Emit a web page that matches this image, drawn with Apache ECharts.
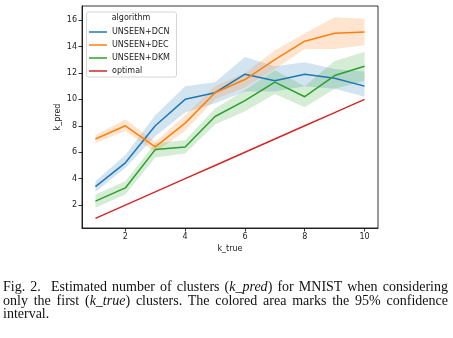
<!DOCTYPE html>
<html><head><meta charset="utf-8">
<script src="https://cdn.jsdelivr.net/npm/echarts@6/dist/echarts.min.js"></script>
<style>
html,body{margin:0;padding:0;background:#fff;}
#c{position:absolute;left:0;top:0;width:453px;height:338px;}
#cap{position:absolute;left:3px;top:280px;width:445px;font-family:"Liberation Serif","DejaVu Serif",serif;font-size:14px;line-height:13.5px;text-align:justify;color:#111;}
</style></head><body>
<div id="c"></div>
<div id="cap">Fig. 2.&nbsp; Estimated number of clusters (<i>k_pred</i>) for MNIST when considering only the first (<i>k_true</i>) clusters. The colored area marks the 95% confidence interval.</div>
<script>
const kTrue = [1,2,3,4,5,6,7,8,9,10];
const dcnMean = [3.4,5.2,8.0,10.0,10.5,11.9,11.4,11.9,11.6,11.0];
const dcnLo   = [3.0,4.8,7.2,9.0,9.7,10.6,10.6,11.0,10.8,10.2];
const dcnHi   = [3.8,5.8,8.8,11.0,11.3,13.2,12.5,12.8,12.3,12.1];
const decMean = [7.0,8.0,6.4,8.2,10.5,11.5,13.0,14.4,15.0,15.1];
const decLo   = [6.7,7.6,6.0,7.6,10.0,10.9,12.3,13.8,13.8,14.1];
const decHi   = [7.3,8.5,6.8,8.8,11.0,12.0,13.7,15.0,16.2,16.1];
const dkmMean = [2.3,3.3,6.2,6.4,8.7,9.9,11.3,10.2,11.8,12.5];
const dkmLo   = [1.8,2.8,5.6,5.9,8.1,9.1,10.4,9.4,10.8,11.4];
const dkmHi   = [2.8,3.8,6.7,6.9,9.3,10.7,12.2,11.0,12.9,13.6];
const optimal = [1,2,3,4,5,6,7,8,9,10];
const xTicks = [2,4,6,8,10];
const yTicks = [2,4,6,8,10,12,14,16];
const names = ['UNSEEN+DCN','UNSEEN+DEC','UNSEEN+DKM','optimal'];
const colors = ['#1f77b4','#ff7f0e','#2ca02c','#d62728'];

const pairs = a => kTrue.map((x,i)=>[x,a[i]]);
const series = [];
const bands = [[dcnLo,dcnHi],[decLo,decHi],[dkmLo,dkmHi]];
bands.forEach((b,k)=>{
  const data = kTrue.map((x,i)=>[x,b[0][i],b[1][i]]);
  series.push({type:'custom',name:'band'+k,data:data,silent:true,z:1,
    encode:{x:0,y:[1,2]},
    renderItem:function(params,api){
      if(params.dataIndex!==0) return null;
      const up=[],dn=[];
      data.forEach(d=>{up.push(api.coord([d[0],d[2]]));dn.push(api.coord([d[0],d[1]]));});
      return {type:'polygon',shape:{points:up.concat(dn.reverse())},
        style:{fill:colors[k],opacity:0.2}};
    }});
});
[dcnMean,decMean,dkmMean,optimal].forEach((m,k)=>{
  series.push({type:'line',name:names[k],data:pairs(m),symbol:'none',lineStyle:{color:colors[k],width:1.5},itemStyle:{color:colors[k]},z:3});
});

const chart = echarts.init(document.getElementById('c'));
const axisCommon = {
  axisLine:{show:true,lineStyle:{color:'#000',width:0.8}},
  axisTick:{show:true,length:3.5,lineStyle:{color:'#000',width:0.8}},
  splitLine:{show:false},
  nameMoveOverlap:false,
  nameTextStyle:{fontFamily:'DejaVu Sans',fontSize:8,color:'#222'}
};
chart.setOption({
  animation:false,
  grid:{left:82,right:75,top:6,bottom:110,show:true,borderColor:'#000',borderWidth:0.8,containLabel:false},
  xAxis:Object.assign({},axisCommon,{type:'value',min:0.55,max:10.45,
    axisTick:Object.assign({},axisCommon.axisTick,{customValues:xTicks}),
    axisLabel:{customValues:xTicks,fontFamily:'DejaVu Sans',fontSize:8,color:'#222',margin:5},
    name:'k_true',nameLocation:'middle',nameGap:17}),
  yAxis:Object.assign({},axisCommon,{type:'value',min:0.27,max:17.06,
    axisTick:Object.assign({},axisCommon.axisTick,{customValues:yTicks}),
    axisLabel:{customValues:yTicks,fontFamily:'DejaVu Sans',fontSize:8,color:'#222',margin:5},
    name:'k_pred',nameLocation:'middle',nameGap:20}),
  legend:{data:names,orient:'vertical',left:89,top:27,padding:0,itemWidth:18,itemHeight:1.5,itemGap:3,icon:'rect',z:20,
    textStyle:{fontFamily:'DejaVu Sans',fontSize:8,color:'#222',lineHeight:10},selectedMode:false},
  graphic:[
    {type:'rect',shape:{x:86.5,y:12,width:90,height:65,r:2},style:{fill:'rgba(255,255,255,0.8)',stroke:'#ccc',lineWidth:0.8},z:5},
    {type:'text',x:131,y:18,style:{text:'algorithm',fontFamily:'DejaVu Sans',fontSize:8,fill:'#222',align:'center',verticalAlign:'middle'},z:21}
  ],
  series:series
});
</script>
</body></html>
